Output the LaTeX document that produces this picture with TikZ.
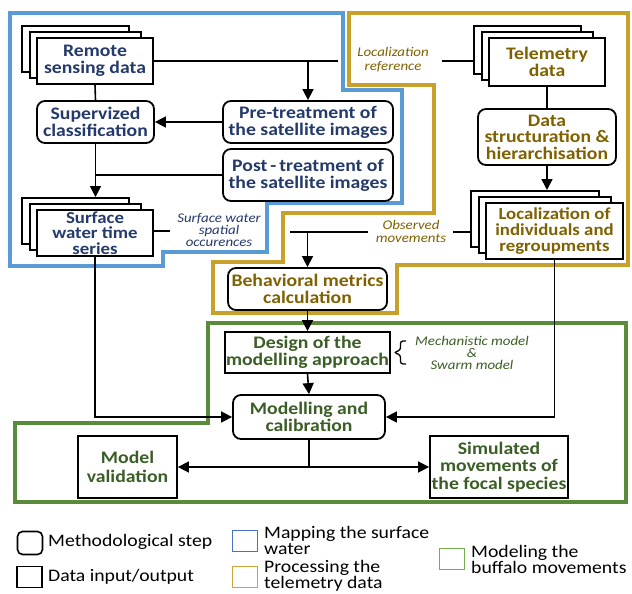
\documentclass[tikz,border=0pt]{standalone}
\usepackage{fontspec}
\setmainfont{Carlito}[FakeStretch=1.12]
\usetikzlibrary{arrows.meta,calc}
\definecolor{bluereg}{HTML}{5B9BD5}
\definecolor{goldreg}{HTML}{C8A02C}
\definecolor{greenreg}{HTML}{5A8B3A}
\definecolor{bluetxt}{HTML}{243A6B}
\definecolor{goldtxt}{HTML}{7F6100}
\definecolor{greentxt}{HTML}{3A5E25}
\definecolor{bluelg}{HTML}{4A72C0}
\definecolor{goldlg}{HTML}{CCA43A}
\definecolor{greenlg}{HTML}{76AD50}
\begin{document}
\begin{tikzpicture}[x=1pt,y=-1pt,
  fs/.style={font=\fontsize{17.6}{#1}\selectfont\bfseries},
  fsm/.style={font=\fontsize{16.8}{#1}\selectfont\bfseries},
  base/.style={draw=black, line width=1.8pt, align=center, inner sep=0pt, fill=white, fs=16.5},
  meth/.style={base, rounded corners=8pt},
  dio/.style={base},
  lab/.style={font=\fontsize{13.3}{#1}\selectfont\itshape, align=center, inner sep=0pt},
  conn/.style={line width=1.6pt, draw=black},
  arr/.style={conn, -{Triangle[width=11pt,length=11pt]}},
  region/.style={line width=3.2pt, line join=miter},
  lgtxt/.style={font=\fontsize{17.6}{16}\selectfont, align=left, inner sep=0pt, anchor=west},
  lgbox/.style={line width=1.6pt, minimum width=25pt, minimum height=21pt, inner sep=0pt}
]
\useasboundingbox (0,0) rectangle (632,594);
\fill[white] (0,0) rectangle (632,594);

% regions
\draw[region, draw=bluereg] (267,203) -- (267,252) -- (163,252) -- (163,266) -- (10,266) -- (10,13) -- (343,13) -- (343,90) -- (402,90) -- (402,203) -- cycle;
\draw[region, draw=goldreg] (349,13) -- (628,13) -- (628,265) -- (397,265) -- (397,313) -- (213,313) -- (213,262) -- (283,262) -- (283,213) -- (434,213) -- (434,85) -- (349,85) -- cycle;
\draw[region, draw=greenreg] (208,323) -- (626,323) -- (626,502) -- (15,502) -- (15,423) -- (208,423) -- cycle;

% stacked back layers
\node[dio, anchor=north west, minimum width=107pt, minimum height=46pt] (rs-b3) at (21,25) {};
\node[dio, anchor=north west, minimum width=111pt, minimum height=46pt] (rs-b2) at (29,31) {};
\node[dio, anchor=north west, minimum width=107pt, minimum height=46pt] (surf-b3) at (21,197) {};
\node[dio, anchor=north west, minimum width=111pt, minimum height=46pt] (surf-b2) at (29,203) {};
\node[dio, anchor=north west, minimum width=107pt, minimum height=48pt] (tel-b3) at (473,25) {};
\node[dio, anchor=north west, minimum width=111pt, minimum height=48pt] (tel-b2) at (481,31) {};
\node[dio, anchor=north west, minimum width=128pt, minimum height=56pt] (loc-b3) at (470,190) {};
\node[dio, anchor=north west, minimum width=132pt, minimum height=56pt] (loc-b2) at (478,196) {};

% main nodes
\node[dio, text=bluetxt, minimum width=116pt, minimum height=46pt, fs=17.5] (rs) at (95,61) {Remote\\sensing data};
\node[meth, text=bluetxt, minimum width=117pt, minimum height=42pt, fs=17] (sup) at (95.5,122) {Supervized\\classification};
\node[meth, text=bluetxt, minimum width=170pt, minimum height=42pt, fs=17] (pre) at (308,122) {Pre-treatment of\\the satellite images};
\node[meth, text=bluetxt, minimum width=170pt, minimum height=52pt, fs=17] (post) at (308,175) {Post\,-\,treatment of\\the satellite images};
\node[dio, text=bluetxt, minimum width=116pt, minimum height=46pt, fsm=15.5] (surf) at (95,233) {Surface\\water time\\series};
\node[dio, text=goldtxt, minimum width=116pt, minimum height=48pt, fs=17.5] (tel) at (547,62) {Telemetry\\data};
\node[meth, text=goldtxt, minimum width=138pt, minimum height=56pt, fs=16.5] (dsh) at (547,137) {Data\\structuration \&\\hierarchisation};
\node[dio, text=goldtxt, minimum width=137pt, minimum height=56pt, fsm=16] (loc) at (554.5,231) {Localization of\\individuals and\\regroupments};
\node[meth, text=goldtxt, minimum width=159pt, minimum height=42pt, fs=16.5] (beh) at (307.5,289) {Behavioral metrics\\calculation};
\node[dio, text=greentxt, minimum width=165pt, minimum height=41pt, fs=16.5] (des) at (307.5,352.5) {Design of the\\modelling approach};
\node[meth, text=greentxt, minimum width=152pt, minimum height=44pt, fs=17.5] (cal) at (309,417) {Modelling and\\calibration};
\node[dio, text=greentxt, minimum width=99pt, minimum height=62pt, fs=19] (val) at (127.5,467) {Model\\validation};
\node[dio, text=greentxt, minimum width=138pt, minimum height=62pt, fs=17.5] (sim) at (499,467) {Simulated\\movements of\\the focal species};

% annotation labels
\node[lab=14, text=goldtxt] (lr) at (393,60) {Localization\\reference};
\node[lab=12, text=bluetxt] (swl) at (219,230) {Surface water\\spatial\\occurences};
\node[lab=13, text=goldtxt] (om) at (411,231.5) {Observed\\movements};
\node[lab=12, text=greentxt] (mech) at (472,353) {Mechanistic model\\\&\\Swarm model};

\coordinate (lrl) at (338,61);
\coordinate (lrr) at (442,61);
\coordinate (swlc) at (170,231);
\coordinate (oml) at (368,232);
\coordinate (omf) at (290,232);
\coordinate (omr) at (453,232);

% connectors
\draw[conn] (rs.east) -- (lrl);
\draw[arr] (pre.north |- rs.east) -- (pre.north);
\draw[conn] (lrr) -- (lrr -| tel-b3.west);
\draw[conn] (rs.south) -- (sup.north);
\draw[arr] (pre.west) -- (sup.east);
\draw[arr] (sup.south) -- (sup.south |- surf-b3.north);
\draw[conn] (post.west) -- (sup.south |- post.west);
\draw[conn] (surf.east |- swlc) -- (swlc);
\draw[conn] (tel.south) -- (dsh.north);
\draw[arr] (dsh.south) -- (dsh.south |- loc-b3.north);
\draw[conn] (oml) -- (omf);
\draw[arr] (beh.north |- oml) -- (beh.north);
\draw[conn] (omr) -- (omr -| loc-b3.west);
\draw[arr] (beh.south) -- (des.north);
\draw[arr] (des.south) -- (cal.north);
\draw[arr] (surf.south) |- (cal.west);
\draw[arr] (loc.south) |- (cal.east);
\coordinate (split) at (cal.south |- val.east);
\draw[conn] (cal.south) -- (split);
\draw[arr] (split) -- (val.east);
\draw[arr] (split) -- (sim.west);

% brace
\draw[line width=1.3pt, rounded corners=2.5pt] (406,341) -- (400.5,341) -- (400.5,350) -- (394,352.5) -- (400.5,355) -- (400.5,364) -- (406,364);

% legend
\node[lgbox, draw=black, rounded corners=5pt, minimum height=23pt] (lg1) at (30,543) {};
\node[lgtxt] (lg1t) at (48,542) {Methodological step};
\node[lgbox, draw=black] (lg2) at (29.5,577) {};
\node[lgtxt] (lg2t) at (48,577) {Data input/output};
\node[lgbox, draw=bluelg] (lg3) at (245,541) {};
\node[lgtxt] (lg3t) at (264,540) {Mapping the surface\\water};
\node[lgbox, draw=goldlg] (lg4) at (245,577) {};
\node[lgtxt] (lg4t) at (264,576) {Processing the\\telemetry data};
\node[lgbox, draw=greenlg] (lg5) at (452,559) {};
\node[lgtxt] (lg5t) at (471,559) {Modeling the\\buffalo movements};
\end{tikzpicture}
\end{document}
